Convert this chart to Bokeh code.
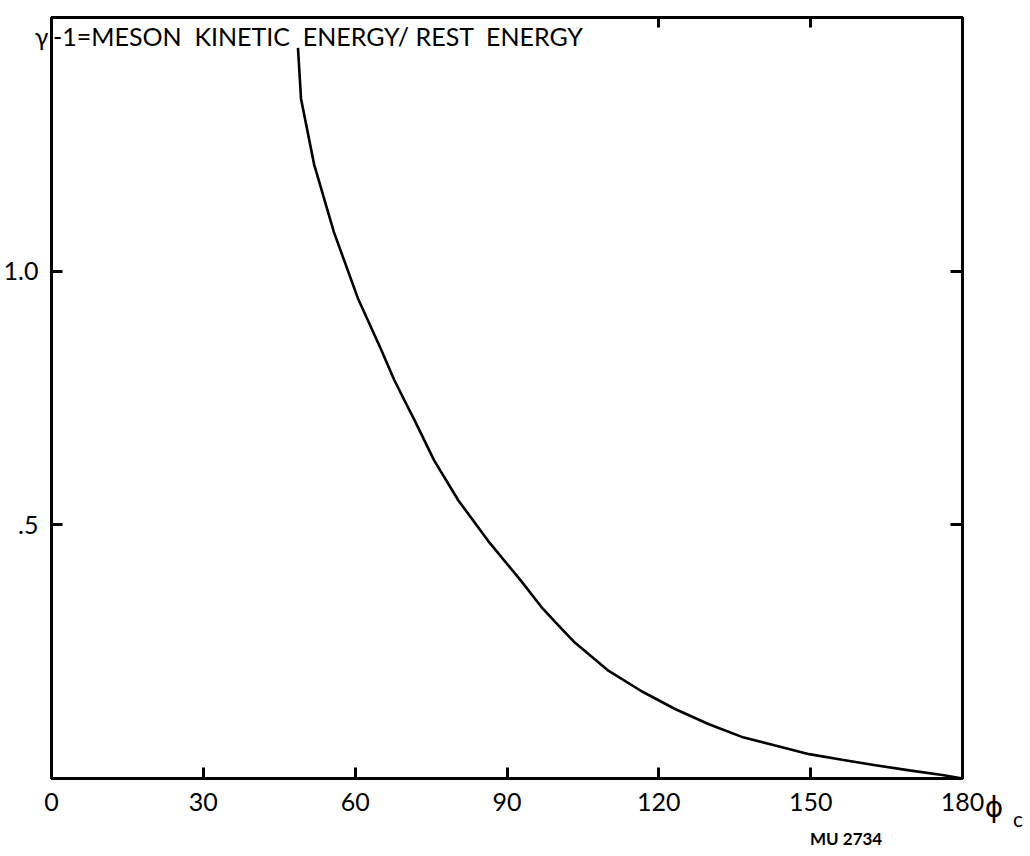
from bokeh.plotting import figure
from bokeh.models import FixedTicker, LinearAxis, Label, Range1d
from bokeh.embed import file_html
from bokeh.resources import INLINE

# data
phi_c = [48.7, 49.3, 51.9, 55.8, 60.6, 65.1, 67.7, 69.7, 71.7, 75.6, 80.4, 86.3,
         92.9, 96.8, 100.8, 103.4, 110.1, 116.6, 123.2, 129.9, 136.4, 143.0,
         149.7, 156.2, 162.8, 169.5, 176.0, 180.0]
gamma_minus_1 = [1.44, 1.34, 1.21, 1.077, 0.945, 0.846, 0.786, 0.746, 0.707, 0.627,
                 0.548, 0.468, 0.388, 0.338, 0.295, 0.268, 0.212, 0.172, 0.137,
                 0.107, 0.082, 0.065, 0.048, 0.037, 0.026, 0.016, 0.007, 0.0]
x_ticks = [0, 30, 60, 90, 120, 150, 180]
y_ticks = [0.5, 1.0]
y_tick_labels = {0.5: ".5", 1.0: "1.0"}
top_ticks = [120, 150]
title_symbol = "γ"
title_rest = "-1=MESON\u00a0 KINETIC\u00a0 ENERGY/ REST\u00a0 ENERGY"
x_symbol = "ϕ"
x_sub = "c"
code_text = "MU 2734"

FONT = "Lato"

p = figure(width=1030, height=856, output_backend="svg", toolbar_location=None,
           x_range=Range1d(0, 180), y_range=Range1d(0, 1.5),
           min_border_left=51, min_border_right=68, min_border_top=17,
           min_border_bottom=78)
p.grid.visible = False
p.outline_line_color = "black"
p.outline_line_width = 3
p.background_fill_color = "white"
p.border_fill_color = "white"

p.xaxis.ticker = FixedTicker(ticks=x_ticks)
p.yaxis.ticker = FixedTicker(ticks=y_ticks)
p.yaxis.major_label_overrides = y_tick_labels

for ax in [p.xaxis[0], p.yaxis[0]]:
    ax.axis_line_width = 3
    ax.major_tick_line_width = 3
    ax.major_tick_in = 11
    ax.major_tick_out = 0
    ax.minor_tick_line_color = None
    ax.major_label_text_font = FONT
    ax.major_label_text_font_size = "25px"
    ax.major_label_text_color = "black"
p.xaxis.major_label_standoff = 14
p.yaxis.major_label_standoff = 13

right = LinearAxis(ticker=FixedTicker(ticks=y_ticks), major_label_text_color=None,
                   major_label_text_font_size="1px",
                   axis_line_width=3, major_tick_line_width=3, major_tick_in=12,
                   major_tick_out=0, minor_tick_line_color=None, major_label_standoff=0)
p.add_layout(right, "right")
top = LinearAxis(ticker=FixedTicker(ticks=top_ticks), major_label_text_color=None,
                 major_label_text_font_size="1px",
                 axis_line_width=3, major_tick_line_width=3, major_tick_in=10,
                 major_tick_out=0, minor_tick_line_color=None, major_label_standoff=0)
p.add_layout(top, "above")

p.line(phi_c, gamma_minus_1, line_color="black", line_width=2.6)

# title: symbol sits left of the frame, the rest inside it
p.add_layout(Label(x=-3.3, y=1.463, text=title_symbol, text_font=FONT,
                   text_font_size="25px", text_color="black", text_baseline="alphabetic"),
             "right")
p.add_layout(Label(x=0.3, y=1.463, text=title_rest, text_font=FONT,
                   text_font_size="25px", text_color="black", text_baseline="alphabetic"))
p.add_layout(Label(x=184.4, y=-0.058, text=x_symbol, text_font="DejaVu Sans",
                   text_font_size="28px", text_color="black", text_baseline="alphabetic"),
             "right")
p.add_layout(Label(x=190.0, y=-0.078, text=x_sub, text_font=FONT,
                   text_font_size="21px", text_color="black", text_baseline="alphabetic"),
             "right")
p.add_layout(Label(x=157, y=-0.118, text=code_text, text_font=FONT, text_font_style="bold",
                   text_font_size="17px", text_color="black", text_align="center",
                   text_baseline="alphabetic"), "below")

open("out.html", "w").write(file_html(p, INLINE))
